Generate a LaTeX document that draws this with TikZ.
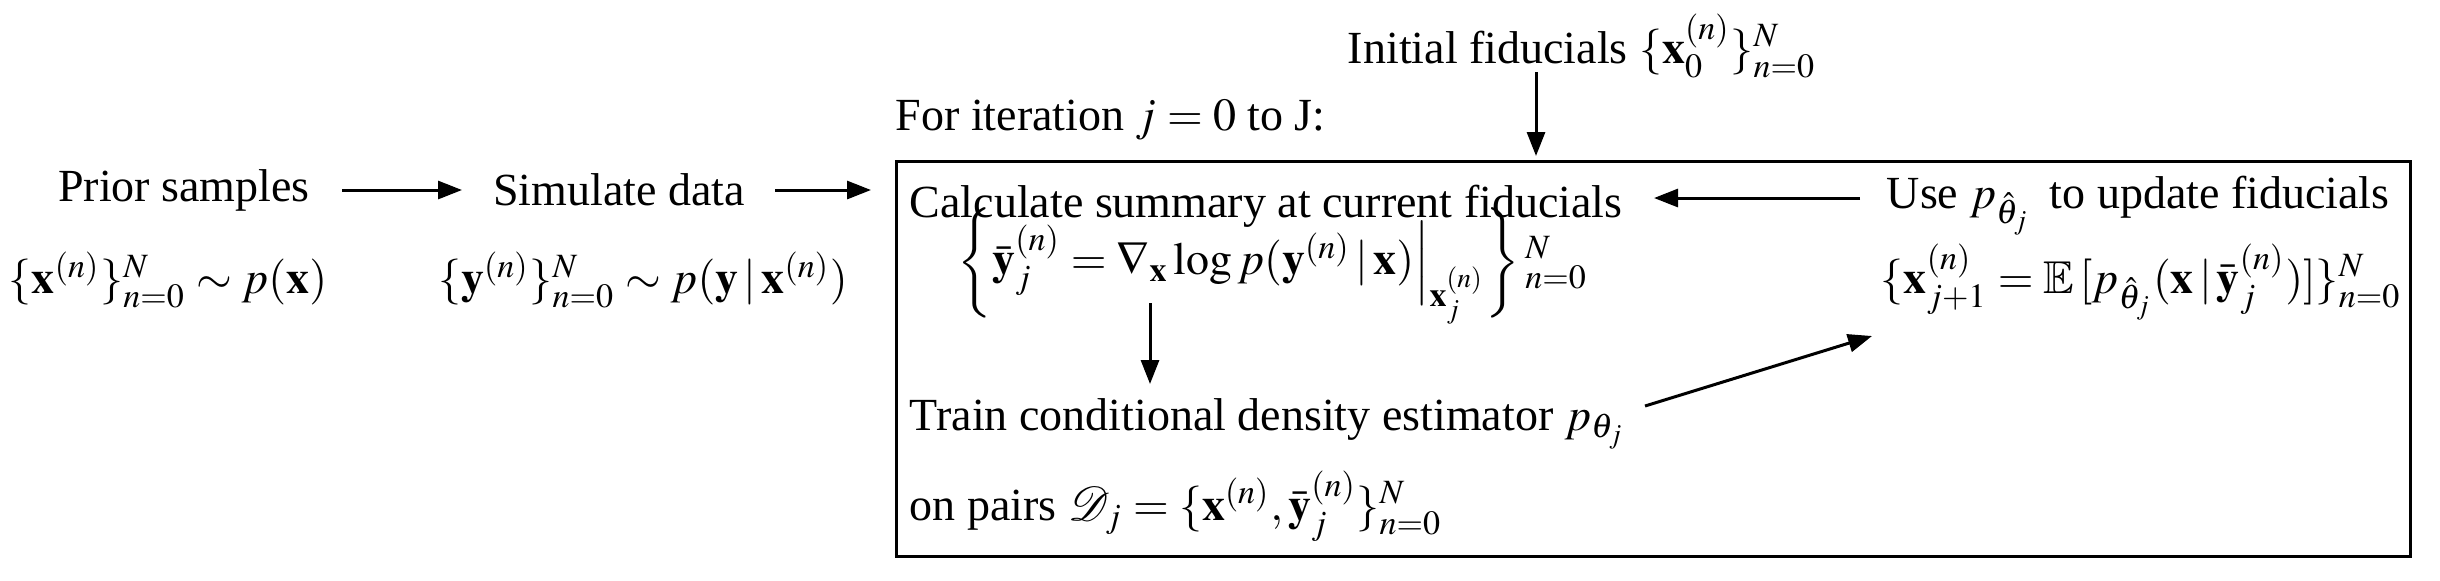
\documentclass[tikz,border=0pt]{standalone}
\usepackage{amsmath,amssymb}
\usepackage{mathptmx}
\usepackage{mathrsfs}
\usepackage[no-math]{fontspec}
\setmainfont{Liberation Serif}
\usetikzlibrary{arrows.meta,calc}
\tikzset{
  txt/.style={inner sep=0pt,font=\fontsize{11.5}{13}\selectfont},
  arr/.style={line width=0.75pt,-{Triangle[length=6pt,width=4.5pt]}},
  frame/.style={draw,line width=0.8pt}
}
\begin{document}
\begin{tikzpicture}[x=0.25pt,y=-0.25pt]
\useasboundingbox (0,0) rectangle (2440,580);
\node[txt] (prior) at (184,190) {Prior samples};
\node[txt] (priorf) at (168,280) {$\{\mathbf{x}^{(n)}\}_{n=0}^{N}\sim p(\mathbf{x})$};
\node[txt] (sim) at (619,190) {Simulate data};
\node[txt] (simf) at (643,280) {$\{\mathbf{y}^{(n)}\}_{n=0}^{N}\sim p(\mathbf{y}\,|\,\mathbf{x}^{(n)})$};
\node[frame,minimum width=1514*0.25pt,minimum height=395*0.25pt,anchor=north west,inner sep=0pt] (box) at (895,160) {};
\node[txt,anchor=west] (iter) at (895,120) {For iteration $j=0$ to J:};
\node[txt] (init) at (1582,46) {Initial fiducials $\{\mathbf{x}_0^{(n)}\}_{n=0}^{N}$};
\node[txt,anchor=west] (calc) at (909,206) {Calculate summary at current fiducials};
\node[txt,anchor=west] (calcf) at (957,266) {$\left\{\bar{\mathbf{y}}_j^{(n)}=\nabla_{\mathbf{x}}\log p(\mathbf{y}^{(n)}\,|\,\mathbf{x})\Big|_{\mathbf{x}_j^{(n)}}\right\}{}^{N}_{n=0}$};
\node[txt,anchor=west] (use) at (1886,206) {Use $p_{\hat\theta_j}$\, to update fiducials};
\node[txt,anchor=west] (usef) at (1880,282) {$\{\mathbf{x}_{j+1}^{(n)}=\mathbb{E}\,[p_{\hat\theta_j}(\mathbf{x}\,|\,\bar{\mathbf{y}}_j^{(n)})]\}_{n=0}^{N}$};
\node[txt,anchor=west] (train) at (909,424) {Train conditional density estimator $p_{\theta_j}$};
\node[txt,anchor=west] (pairs) at (909,506) {on pairs $\mathscr{D}_j=\{\mathbf{x}^{(n)},\bar{\mathbf{y}}_j^{(n)}\}_{n=0}^{N}$};
\coordinate (p1) at (342,190); \coordinate (p2) at (462,190);
\coordinate (s1) at (775,190); \coordinate (s2) at (871,190);
\coordinate (i1) at (1536,72); \coordinate (i2) at (1536,156);
\coordinate (u1) at (1860,198); \coordinate (u2) at (1654,198);
\coordinate (c1) at (1150,303); \coordinate (c2) at (1150,384);
\coordinate (t1) at (1645,406); \coordinate (t2) at (1872,336);
\draw[arr] (p1) -- (p2);
\draw[arr] (s1) -- (s2);
\draw[arr] (i1) -- (i2);
\draw[arr] (u1) -- (u2);
\draw[arr] (c1) -- (c2);
\draw[arr] (t1) -- (t2);
\end{tikzpicture}
\end{document}
